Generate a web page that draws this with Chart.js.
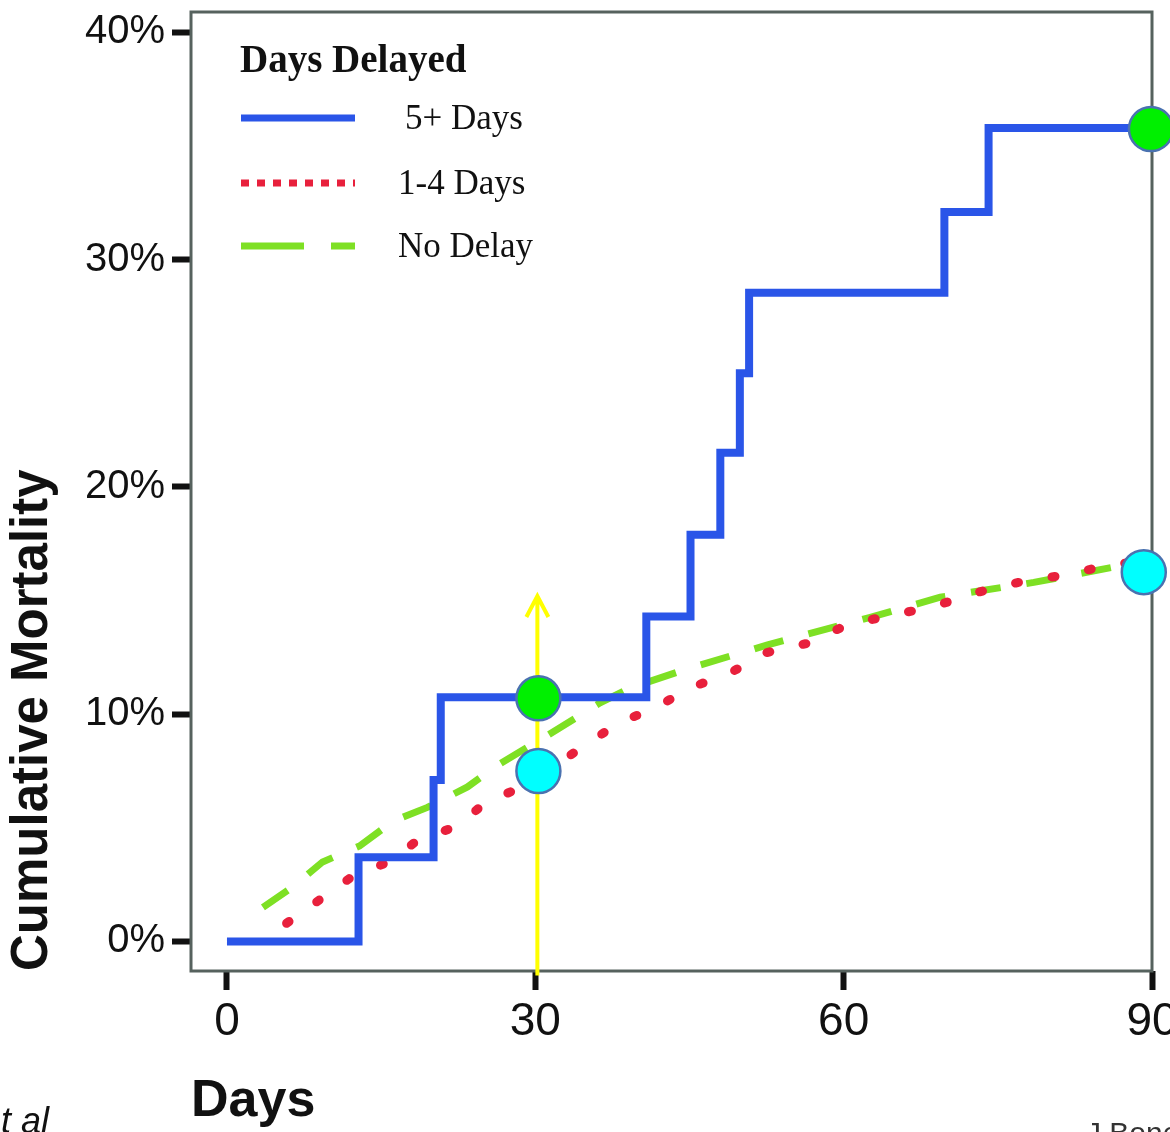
<!DOCTYPE html>
<html lang="en">
<head>
<meta charset="UTF-8">
<title>Cumulative Mortality by Days Delayed</title>
<style>
  body { margin: 0; background: #fff; }
  .chartBox { width: 1170px; height: 1132px; }
</style>
</head>
<body>
<div class="chartBox"><canvas id="myChart"></canvas></div>
<script src="https://cdn.jsdelivr.net/npm/chart.js"></script>
<script>
// days after injury / cumulative mortality (%)
const delay5Days = [0, 12.8, 20.1, 20.8, 40.8, 45.1, 48.0, 49.9, 50.8, 69.8, 74.1, 90];
const delay5Pct  = [0, 3.7, 7.1, 10.75, 14.3, 17.9, 21.5, 25.0, 28.55, 32.1, 35.8, 35.8];

const delay14Days = [5.8, 8.9, 12.0, 15.7, 18.4, 22.5, 25.1, 28.7, 31.9, 35.1, 38.0, 41.8, 45.0, 48.9, 52.4, 56.3, 60.2, 64.5, 68.5, 72.9, 77.0, 81.8, 85.7, 89.9];
const delay14Pct  = [0.8, 1.8, 2.8, 3.5, 4.4, 5.1, 6.1, 6.8, 7.75, 8.7, 9.6, 10.3, 11.15, 11.8, 12.7, 13.1, 13.9, 14.35, 14.7, 15.35, 15.8, 16.15, 16.55, 16.8];

const noDelayDays = [3.5, 6.4, 9.3, 12.9, 16.2, 19.5, 23.4, 26.3, 31.3, 36.3, 39.2, 44.8, 52.6, 62.5, 69.4, 78.5, 86.6, 89.5];
const noDelayPct  = [1.5, 2.4, 3.5, 4.2, 5.3, 5.9, 6.8, 7.75, 9.1, 10.5, 11.15, 12.0, 13.05, 14.25, 15.15, 15.8, 16.5, 16.7];

// highlighted points and the arrow at day 30
const markerDays   = [30.3, 30.3, 89.9, 89.2];
const markerPct    = [10.7, 7.5, 35.75, 16.25];
const markerColors = ['#00f000', '#00ffff', '#00f000', '#00ffff'];
const arrowDay  = 30.2;
const arrowFrom = -1.5;
const arrowTo   = 15.2;

const xTicks = [0, 30, 60, 90];
const yTicks = [0, 10, 20, 30, 40];
const legendTitle = 'Days Delayed';

const SANS = '"Liberation Sans", Arial, sans-serif';
const SERIF = '"Liberation Serif", "Times New Roman", serif';

const pts = (xs, ys) => xs.map((x, i) => ({ x: x, y: ys[i] }));

const legendPlugin = {
  id: 'daysLegend',
  afterDraw(chart) {
    const ctx = chart.ctx;
    ctx.save();
    ctx.fillStyle = '#111';
    ctx.textAlign = 'left';
    ctx.textBaseline = 'alphabetic';
    ctx.font = 'bold 39px ' + SERIF;
    ctx.fillText(legendTitle, 240, 72);

    const rows = [118, 183, 246];
    const textX = [405, 398, 398];
    ctx.font = '35px ' + SERIF;
    chart.data.datasets.filter(d => d.sampleDash).forEach((d, i) => {
      const y = rows[i];
      ctx.save();
      ctx.strokeStyle = d.borderColor;
      ctx.lineWidth = d.sampleWidth;
      ctx.lineCap = 'butt';
      ctx.setLineDash(d.sampleDash);
      ctx.beginPath();
      ctx.moveTo(241, y);
      ctx.lineTo(355, y);
      ctx.stroke();
      ctx.restore();
      ctx.textBaseline = 'middle';
      ctx.fillText(d.label, textX[i], y + 2);
    });

    // cut-off slide text at the page edges
    ctx.textBaseline = 'alphabetic';
    ctx.textAlign = 'right';
    ctx.font = 'italic 36px ' + SANS;
    ctx.fillText('et al', 49, 1133);
    ctx.textAlign = 'left';
    ctx.font = '30px ' + SANS;
    ctx.fillStyle = '#333';
    ctx.fillText('J Bone Joint Surg', 1086, 1143);
    ctx.restore();
  }
};

const framePlugin = {
  id: 'frame',
  beforeDatasetsDraw(chart) {
    const { ctx, chartArea: a } = chart;
    ctx.save();
    ctx.strokeStyle = '#56625e';
    ctx.lineWidth = 3;
    ctx.strokeRect(a.left, a.top, a.right - a.left, a.bottom - a.top);
    ctx.restore();
  },
  afterDatasetDraw(chart, args) {
    if (args.index !== 1) return;
    const ctx = chart.ctx;
    const x = chart.scales.x.getPixelForValue(arrowDay);
    const y0 = chart.scales.y.getPixelForValue(arrowFrom);
    const y1 = chart.scales.y.getPixelForValue(arrowTo);
    ctx.save();
    ctx.strokeStyle = '#ffff00';
    ctx.lineWidth = 4;
    ctx.beginPath();
    ctx.moveTo(x, y0);
    ctx.lineTo(x, y1);
    ctx.moveTo(x - 11, y1 + 21);
    ctx.lineTo(x, y1);
    ctx.lineTo(x + 11, y1 + 21);
    ctx.stroke();
    ctx.restore();
  }
};

const ctx = document.getElementById('myChart').getContext('2d');
const myChart = new Chart(ctx, {
  type: 'line',
  data: {
    datasets: [{
      label: 'markers',
      data: pts(markerDays, markerPct),
      showLine: false,
      pointRadius: 22,
      pointBackgroundColor: markerColors,
      pointBorderColor: '#4a72b0',
      pointBorderWidth: 2.5,
      clip: false
    }, {
      label: '5+ Days',
      data: pts(delay5Days, delay5Pct),
      stepped: 'before',
      borderColor: '#2a55e8',
      borderWidth: 8,
      pointRadius: 0,
      borderJoinStyle: 'miter',
      sampleDash: [],
      sampleWidth: 7
    }, {
      label: '1-4 Days',
      data: pts(delay14Days, delay14Pct),
      borderColor: '#e8203c',
      borderWidth: 9,
      borderDash: [3, 34],
      borderCapStyle: 'round',
      pointRadius: 0,
      sampleDash: [8, 8],
      sampleWidth: 7
    }, {
      label: 'No Delay',
      data: pts(noDelayDays, noDelayPct),
      borderColor: '#7ee024',
      borderWidth: 7,
      borderDash: [30, 26],
      pointRadius: 0,
      sampleDash: [63, 27],
      sampleWidth: 7
    }]
  },
  options: {
    responsive: true,
    maintainAspectRatio: false,
    animation: false,
    layout: { autoPadding: false, padding: { top: 12, right: 18, left: 0, bottom: 0 } },
    plugins: { legend: { display: false }, tooltip: { enabled: false } },
    scales: {
      x: {
        type: 'linear',
        min: -3.5,
        max: 90,
        afterBuildTicks: s => { s.ticks = xTicks.map(v => ({ value: v })); },
        afterFit: s => { s.height = 161; s.paddingLeft = 0; s.paddingRight = 0; },
        border: { display: false },
        grid: { drawOnChartArea: false, tickLength: 19, tickWidth: 6, tickColor: '#111' },
        ticks: { padding: 5, color: '#111', autoSkip: false, maxRotation: 0, font: { family: SANS, size: 46 }, callback: v => v },
        title: { display: true, text: 'Days', align: 'start', color: '#111', padding: { top: 0, bottom: 4 }, font: { family: SANS, size: 52, weight: 'bold', lineHeight: 1 } }
      },
      y: {
        min: -1.3,
        max: 40.9,
        afterBuildTicks: s => { s.ticks = yTicks.map(v => ({ value: v })); },
        afterFit: s => { s.width = 191; s.paddingTop = 0; s.paddingBottom = 0; },
        border: { display: false },
        grid: { drawOnChartArea: false, tickLength: 19, tickWidth: 6, tickColor: '#111' },
        ticks: { padding: 7, color: '#111', font: { family: SANS, size: 40 }, callback: v => v + '%' },
        title: { display: true, text: 'Cumulative Mortality', align: 'start', color: '#111', padding: { top: 7, bottom: 0 }, font: { family: SANS, size: 51, weight: 'bold', lineHeight: 1 } }
      }
    }
  },
  plugins: [legendPlugin, framePlugin]
});
</script>
</body>
</html>
